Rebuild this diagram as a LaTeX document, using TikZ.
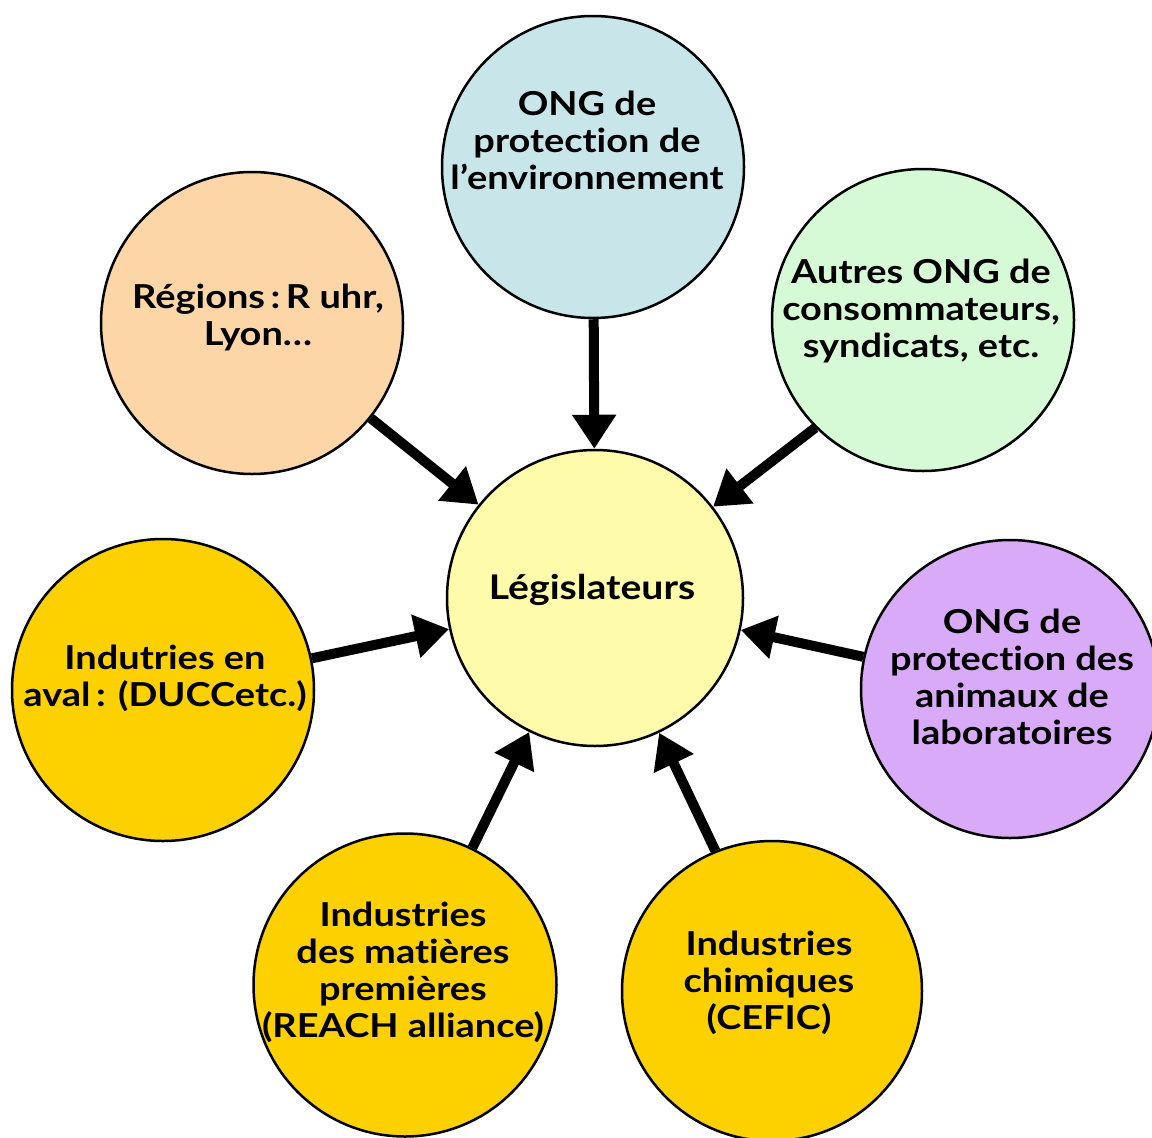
\documentclass[tikz,border=0pt]{standalone}
\usepackage{fontspec}
\setmainfont{Lato}[FakeStretch=1.15, Ligatures={NoCommon,NoRare}]
\usetikzlibrary{arrows.meta}
\definecolor{cblue}{HTML}{C8E6EA}
\definecolor{cpeach}{HTML}{FDD6A8}
\definecolor{cgreen}{HTML}{D6FAD6}
\definecolor{cyell}{HTML}{FEFBAA}
\definecolor{cviolet}{HTML}{D8AAF8}
\definecolor{cgold}{HTML}{FDD000}
\tikzset{
  bubble/.style={circle, draw=black, line width=2.5pt, inner sep=0pt, minimum size=#1},
  lbl/.style={align=center, font=\fontsize{33}{37}\selectfont\bfseries, inner sep=0pt},
  arr/.style={line width=10pt, -{Triangle[length=34pt,width=42pt]}}
}
\begin{document}
\begin{tikzpicture}[x=1pt,y=-1pt]
\useasboundingbox (0,0) rectangle (1152,1138);
\node[bubble=302pt, fill=cblue]   (env) at (593,167) {};
\node[bubble=302pt, fill=cpeach]  (reg) at (252,323) {};
\node[bubble=302pt, fill=cgreen]  (aut) at (923,320) {};
\node[bubble=296pt, fill=cyell]   (leg) at (595,598) {};
\node[bubble=302pt, fill=cgold]   (aval) at (163,690) {};
\node[bubble=298pt, fill=cviolet] (ani) at (1010,689) {};
\node[bubble=303pt, fill=cgold]   (mat) at (405,985) {};
\node[bubble=300pt, fill=cgold]   (chi) at (772,991) {};

\node[lbl] (envt) at (587,140) {ONG de\\protection de\\l’environnement};
\node[lbl] (regt) at (258,317) {Régions\,:\,R uhr,\\Lyon…};
\node[lbl] (autt) at (921,311) {Autres ONG de\\consommateurs,\\syndicats, etc.};
\node[lbl, font=\fontsize{34}{37}\selectfont\bfseries] (legt) at (592,590) {Législateurs};
\node[lbl] (avalt) at (165,678) {Indutries en\\aval\,: (DUCCetc.)};
\node[lbl] (anit) at (1012,677) {ONG de\\protection des\\animaux de\\laboratoires};
\node[lbl] (matt) at (403,972) {Industries\\des matières\\premières\\(REACH alliance)};
\node[lbl] (chit) at (769,983) {Industries\\chimiques\\(CEFIC)};

\draw[arr] (env) -- (leg);
\draw[arr] (reg) -- (leg);
\draw[arr] (aut.225) -- (leg);
\draw[arr] (aval) -- (leg);
\draw[arr] (ani) -- (leg);
\draw[arr] (mat) -- (leg);
\draw[arr] (chi.112) -- (leg);
\end{tikzpicture}
\end{document}
